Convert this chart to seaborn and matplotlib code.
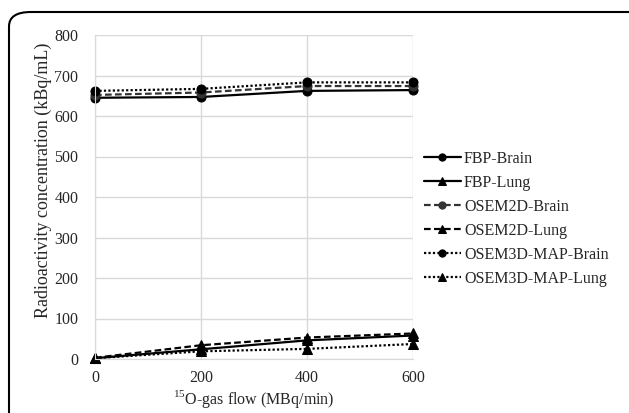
import numpy as np
import pandas as pd
import matplotlib.pyplot as plt
import seaborn as sns
from matplotlib.patches import FancyBboxPatch

# veriler (grafikten okunan tahmini degerler)
gas_flow = [0, 200, 400, 600]
fbp_brain = [645, 647, 662, 664]
fbp_lung = [2, 24, 46, 58]
osem2d_brain = [652, 658, 674, 674]
osem2d_lung = [3, 34, 53, 63]
osem3d_brain = [662, 667, 683, 683]
osem3d_lung = [2, 19, 25, 37]

series_names = ['FBP-Brain', 'FBP-Lung', 'OSEM2D-Brain', 'OSEM2D-Lung',
                'OSEM3D-MAP-Brain', 'OSEM3D-MAP-Lung']
series_vals = [fbp_brain, fbp_lung, osem2d_brain, osem2d_lung,
               osem3d_brain, osem3d_lung]

rows = []
for name, vals in zip(series_names, series_vals):
    for x, y in zip(gas_flow, vals):
        rows.append({'flow': x, 'conc': y, 'series': name})
df = pd.DataFrame(rows)

sns.set_style('white')
plt.rcParams['font.family'] = ['Liberation Serif', 'DejaVu Serif']
plt.rcParams['mathtext.fontset'] = 'custom'
plt.rcParams['mathtext.rm'] = 'Liberation Serif'

fig = plt.figure(figsize=(6.29, 4.13), dpi=100)
ax = fig.add_axes([95 / 629, 54 / 413, 318 / 629, 324 / 413])

# cizgi stili: (dash deseni, marker)
styles = {
    'FBP-Brain': ('-', 'o'),
    'FBP-Lung': ('-', '^'),
    'OSEM2D-Brain': ((0, (3, 1.5)), 'o'),
    'OSEM2D-Lung': ((0, (3, 1.5)), '^'),
    'OSEM3D-MAP-Brain': ((0, (1, 1)), 'o'),
    'OSEM3D-MAP-Lung': ((0, (1, 1)), '^'),
}
colors = {
    'FBP-Brain': 'black', 'FBP-Lung': 'black',
    'OSEM2D-Brain': '#333333', 'OSEM2D-Lung': 'black',
    'OSEM3D-MAP-Brain': 'black', 'OSEM3D-MAP-Lung': 'black',
}

for name in series_names:
    ls, mk = styles[name]
    sub = df[df['series'] == name]
    sns.lineplot(data=sub, x='flow', y='conc', ax=ax, color=colors[name],
                 linestyle=ls, marker=mk, markersize=6.5, linewidth=1.6,
                 markeredgecolor=colors[name], label=name, clip_on=False)

ax.set_xlim(0, 600)
ax.set_ylim(0, 800)
ax.set_xticks([0, 200, 400, 600])
ax.set_yticks(np.arange(0, 801, 100))
ax.grid(True, color='#d9d9d9', linewidth=1)
ax.set_axisbelow(True)
for s in ['top', 'right']:
    ax.spines[s].set_visible(False)
for s in ['left', 'bottom']:
    ax.spines[s].set_color('#d9d9d9')
ax.tick_params(axis='y', length=0, labelsize=11.5, pad=12)
ax.tick_params(axis='x', length=0, labelsize=11.5, pad=8)
ax.set_xlabel('$^{15}$O-gas flow (MBq/min)', fontsize=11.5, labelpad=1)
ax.set_ylabel('Radioactivity concentration (kBq/mL)', fontsize=13)
ax.yaxis.set_label_coords(-0.135, 0.55)

leg = ax.legend(loc='center left', bbox_to_anchor=(1.035, 0.432),
                frameon=False, fontsize=11.5, handlelength=2.3,
                labelspacing=0.5, handletextpad=0.2, borderpad=0,
                borderaxespad=0, markerscale=0.8)

# yuvarlak koseli cerceve
frame = FancyBboxPatch((9 / 629, -0.2), 1.2, (413 - 12) / 413 + 0.2,
                       boxstyle='round,pad=0,rounding_size=0.035',
                       transform=fig.transFigure, fill=False,
                       edgecolor='black', linewidth=1.5)
fig.patches.append(frame)

fig.savefig('out.png', dpi=100)
